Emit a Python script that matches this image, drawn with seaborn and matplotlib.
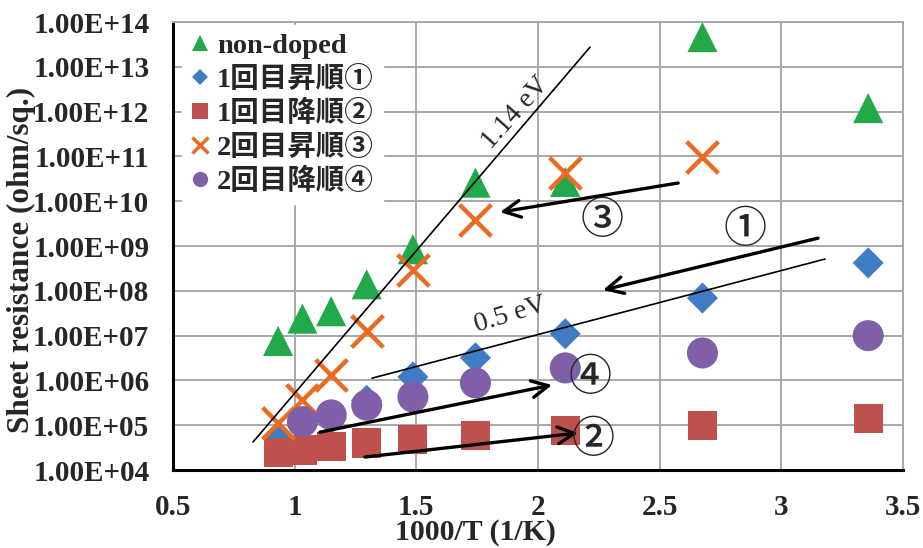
import numpy as np
import pandas as pd
import seaborn as sns
import matplotlib
matplotlib.use("Agg")
import matplotlib.pyplot as plt
from matplotlib.lines import Line2D
from matplotlib.ticker import FixedLocator, FuncFormatter

# 1000/T (1/K) for 800, 700, 600, 500, 400, 300, 200, 100, 25 degC
inv_T = [0.932, 1.032, 1.150, 1.296, 1.486, 1.743, 2.112, 2.676, 3.357]

# Sheet resistance (ohm/sq.)
non_doped = [7.6e6, 2.4e7, 3.5e7, 1.4e8, 8.5e8, 2.6e10, 2.7e10, 4.6e13, 1.2e12]
up_1st    = [5.5e4, 1.0e5, 1.4e5, 3.6e5, 1.2e6, 3.2e6, 1.1e7, 6.9e7, 4.2e8]
down_1st  = [2.5e4, 2.8e4, 3.3e4, 4.0e4, 4.7e4, 6.0e4, 7.7e4, 1.0e5, 1.4e5]
up_2nd    = [1.1e5, 3.7e5, 1.3e6, 1.3e7, 2.9e8, 3.8e9, 4.3e10, 9.7e10, np.nan]
down_2nd  = [np.nan, 1.2e5, 1.7e5, 2.8e5, 4.3e5, 8.8e5, 1.9e6, 4.1e6, 1.0e7]

series_names = ["non-doped", "1回目昇順①", "1回目降順②", "2回目昇順③", "2回目降順④"]
series_values = [non_doped, up_1st, down_1st, up_2nd, down_2nd]
series_colors = ["#23A84B", "#3F7CC4", "#C0504D", "#EA6C24", "#7E5FA8"]
series_markers = ["^", "D", "s", "x", "o"]
series_sizes = [470, 250, 440, 520, 500]      # scatter area, pt^2
legend_sizes = [11, 8, 11, 11, 11]

# Activation-energy guide lines (x, y end points)
fit_114_x = [0.829, 2.214]
fit_114_y = [10 ** 4.625, 10 ** 13.44]
fit_05_x = [1.318, 3.18]
fit_05_y = [10 ** 6.05, 10 ** 8.71]

# Arrows: (label, start, end, label position)
arrow_labels = ["①", "②", "③", "④"]
arrow_start = [(3.151, 1.5e9), (1.289, 1.95e4), (2.576, 2.55e10), (1.104, 7.0e4)]
arrow_end = [(2.267, 1.04e8), (2.165, 6.7e4), (1.844, 5.7e9), (2.058, 7.9e5)]
arrow_label_pos = [(2.851, 2.3e9), (2.226, 4.7e4), (2.263, 3.8e9), (2.214, 1.19e6)]

x_ticks = [0.5, 1, 1.5, 2, 2.5, 3, 3.5]
y_ticks = [10.0 ** k for k in range(4, 15)]

df = pd.DataFrame({"inv_T": inv_T})
for name, vals in zip(series_names, series_values):
    df[name] = vals

sns.set_theme(style="white")
serif = ["Liberation Serif", "Noto Sans CJK JP", "DejaVu Sans"]
plt.rcParams["font.family"] = serif
plt.rcParams["font.weight"] = "bold"

fig = plt.figure(figsize=(9.23, 5.48), dpi=100)
ax = fig.add_axes([0.1874, 0.1423, 0.7909, 0.8175])

for name, color, marker, size in zip(series_names, series_colors, series_markers, series_sizes):
    if marker == "x":
        sns.scatterplot(data=df, x="inv_T", y=name, ax=ax, marker=marker, s=size,
                        color=color, linewidth=3.2, zorder=3, legend=False)
    else:
        sns.scatterplot(data=df, x="inv_T", y=name, ax=ax, marker=marker, s=size,
                        color=color, linewidth=0, edgecolor="none", zorder=3, legend=False)

ax.set_yscale("log")
ax.set_xlim(0.5, 3.5)
ax.set_ylim(1e4, 1e14)

# guide lines
ax.plot(fit_114_x, fit_114_y, color="black", lw=1.2, zorder=4)
ax.plot(fit_05_x, fit_05_y, color="black", lw=1.2, zorder=4)
ax.text(1.906, 9.3e11, "1.14 eV", rotation=48, fontsize=20, fontweight="normal",
        ha="center", va="center", rotation_mode="anchor", family=serif)
ax.text(1.885, 2.9e7, "0.5 eV", rotation=17, fontsize=20, fontweight="normal",
        ha="center", va="center", rotation_mode="anchor", family=serif)

for lab, s, e, p in zip(arrow_labels, arrow_start, arrow_end, arrow_label_pos):
    ax.annotate("", xy=e, xytext=s,
                arrowprops=dict(arrowstyle="->", lw=2.4, color="black",
                                mutation_scale=30, shrinkA=0, shrinkB=0), zorder=5)
    ax.text(p[0], p[1], lab, fontsize=31, fontweight="medium", ha="center", va="center",
            family=["Noto Sans CJK JP", "DejaVu Sans"], zorder=6)

# axes styling
ax.grid(True, which="major", color="#A8A8A8", lw=1.4, zorder=0)
ax.set_axisbelow(True)
ax.xaxis.set_major_locator(FixedLocator(x_ticks))
ax.xaxis.set_major_formatter(FuncFormatter(lambda v, _: f"{v:g}"))
ax.yaxis.set_major_locator(FixedLocator(y_ticks))
ax.yaxis.set_major_formatter(FuncFormatter(lambda v, _: f"{v:.2E}"))
ax.yaxis.set_minor_locator(FixedLocator([]))
for sp in ["left", "bottom"]:
    ax.spines[sp].set_color("black")
    ax.spines[sp].set_linewidth(2.2)
for sp in ["top", "right"]:
    ax.spines[sp].set_color("#A8A8A8")
    ax.spines[sp].set_linewidth(1.4)
ax.tick_params(axis="both", direction="in", length=6, width=2, color="black",
               labelsize=21)
ax.tick_params(axis="y", pad=17)
ax.tick_params(axis="x", pad=17)
for lbl in ax.get_xticklabels() + ax.get_yticklabels():
    lbl.set_fontweight("bold")

ax.set_xlabel("1000/T (1/K)", fontsize=21.5, fontweight="bold")
ax.set_ylabel("Sheet resistance (ohm/sq.)", fontsize=22.5, fontweight="bold")
ax.xaxis.set_label_coords(0.415, -0.14)
ax.yaxis.set_label_coords(-0.207, 0.47)
ax.xaxis.label.set_va("center")
ax.yaxis.label.set_va("center")

handles = [Line2D([], [], linestyle="none", marker=m, color=c, markersize=ms,
                  markeredgewidth=(2.5 if m == "x" else 0))
           for m, c, ms in zip(series_markers, series_colors, legend_sizes)]
leg = ax.legend(handles, series_names, loc="upper left", bbox_to_anchor=(0.008, 1.0),
                frameon=True, prop={"family": serif, "weight": "bold", "size": 20.5},
                handlelength=0.7, handletextpad=0.25, labelspacing=0.24,
                borderaxespad=0.1, borderpad=0.3, fancybox=False)
leg.get_frame().set_facecolor("white")
leg.get_frame().set_edgecolor("white")
leg.get_frame().set_alpha(1)
leg.set_zorder(10)

fig.savefig("out.png", dpi=100, facecolor="white")
